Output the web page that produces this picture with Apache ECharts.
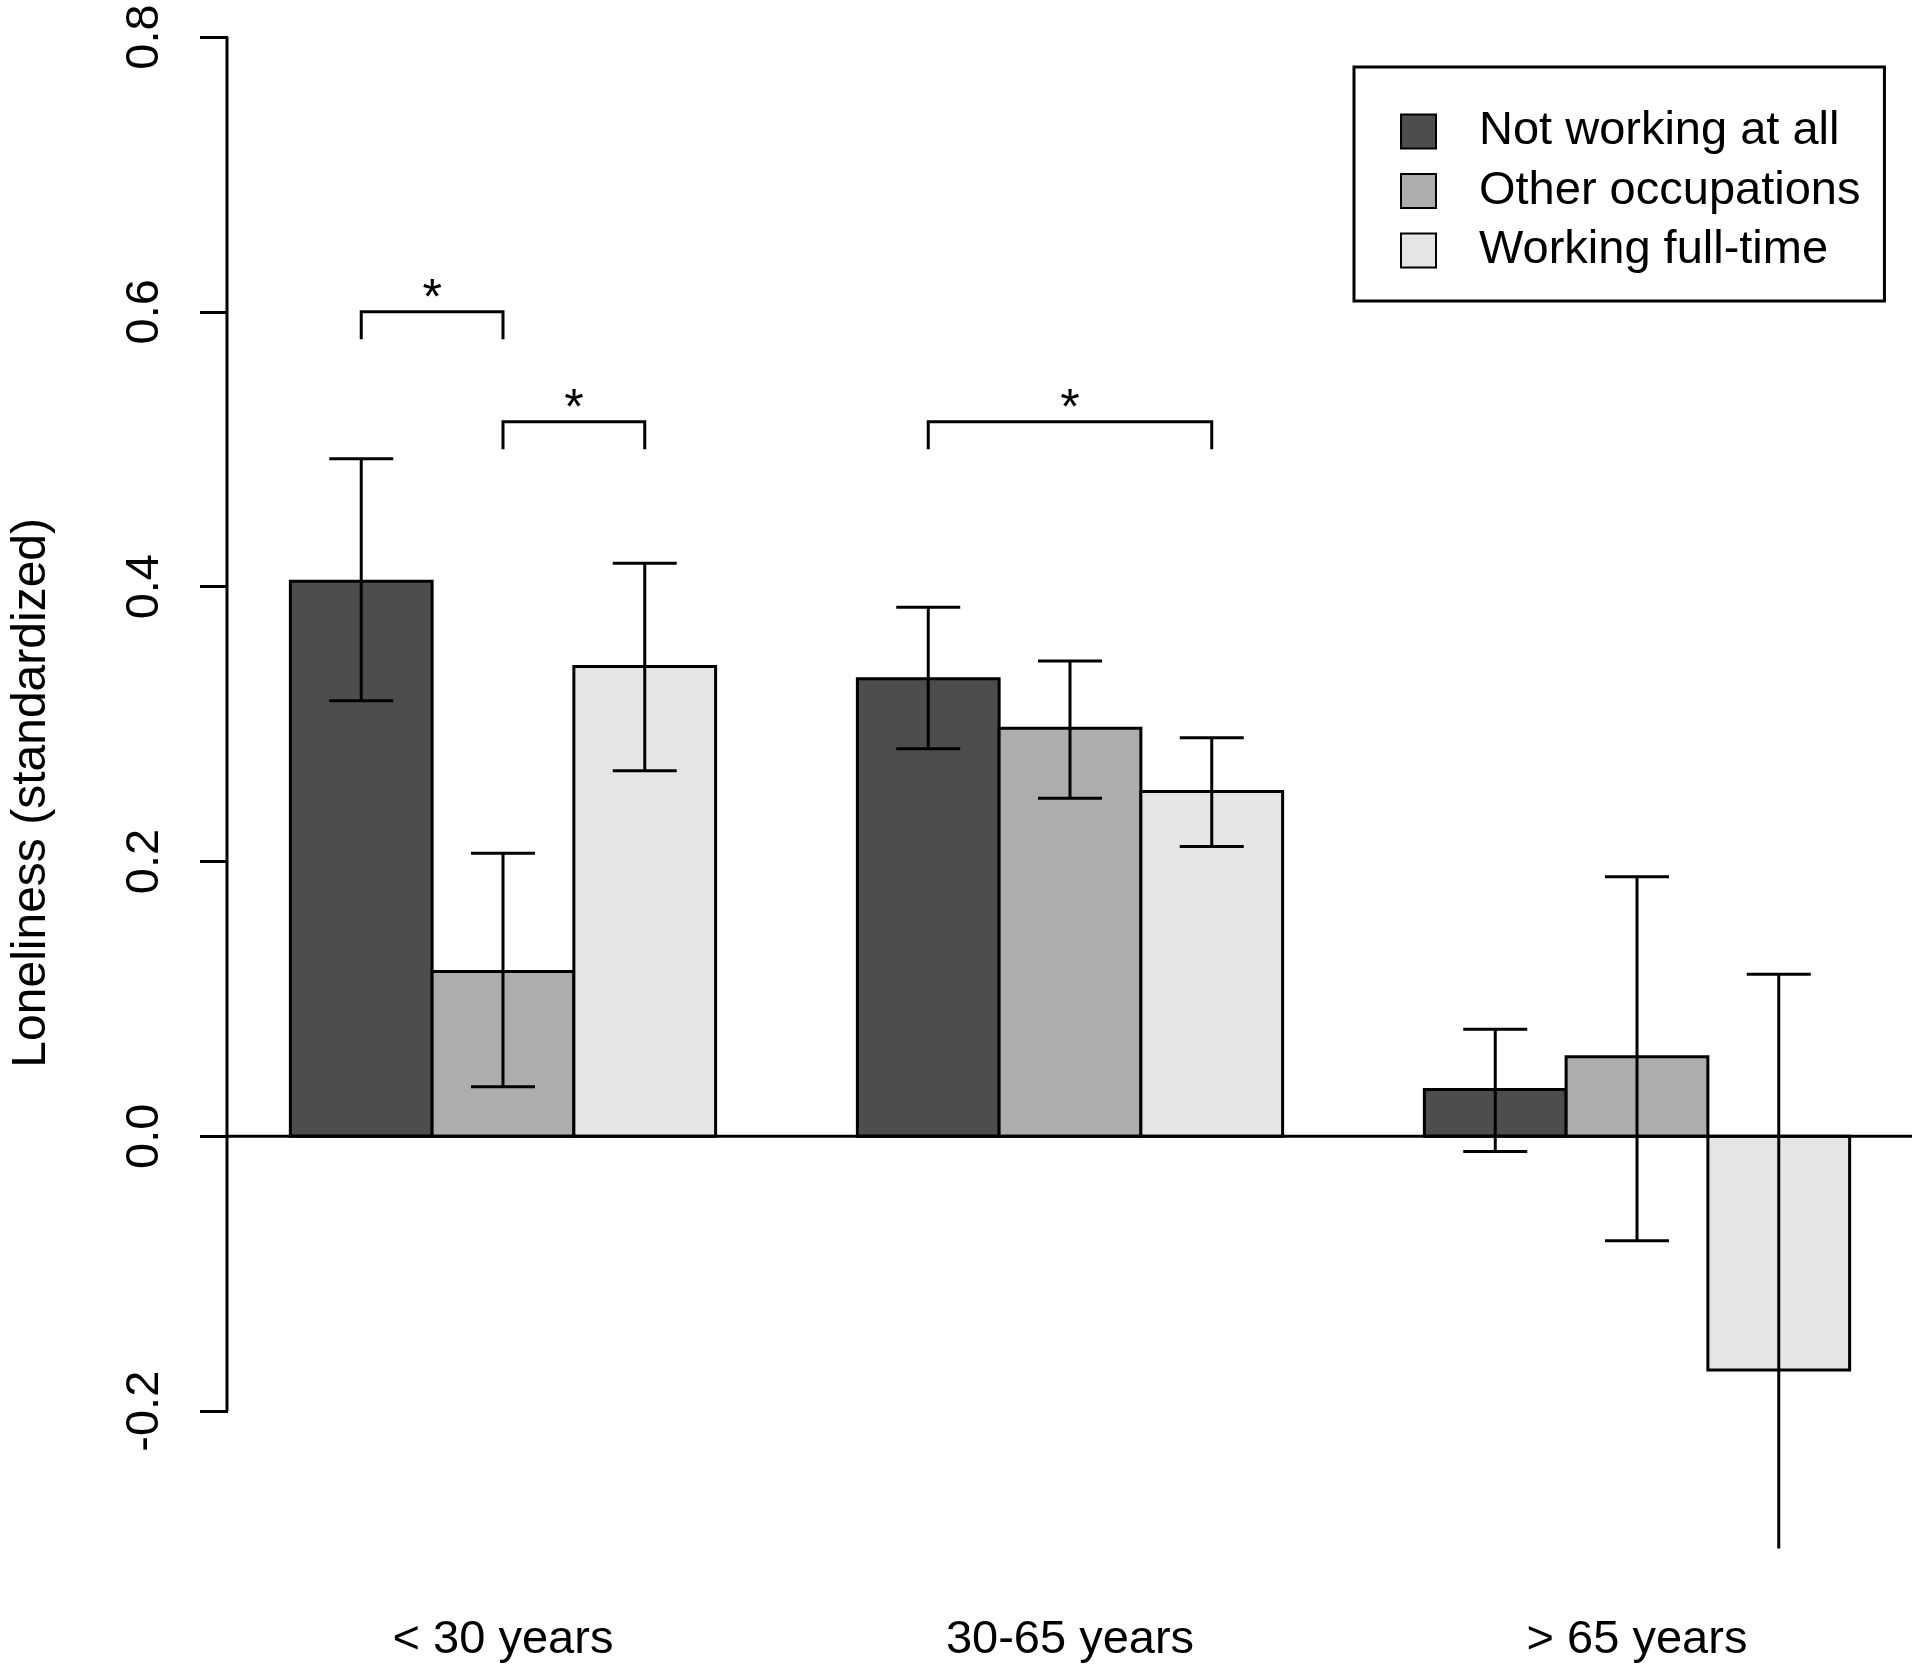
<!DOCTYPE html>
<html><head><meta charset="utf-8">
<script src="https://cdn.jsdelivr.net/npm/echarts@6/dist/echarts.min.js"></script>
<style>html,body{margin:0;padding:0;background:#fff}#c{width:1920px;height:1675px}</style>
</head><body><div id="c"></div>
<script>
// ---- data ----
const categories = ['< 30 years', '30-65 years', '> 65 years'];
const seriesNames = ['Not working at all', 'Other occupations', 'Working full-time'];
const notWorking     = [0.404, 0.333, 0.034];
const otherOcc       = [0.120, 0.297, 0.058];
const fullTime       = [0.342, 0.251, -0.170];
const notWorkingLow  = [0.317, 0.282, -0.011];
const notWorkingHigh = [0.493, 0.385, 0.078];
const otherOccLow    = [0.036, 0.246, -0.076];
const otherOccHigh   = [0.206, 0.346, 0.189];
const fullTimeLow    = [0.266, 0.211, -0.330];
const fullTimeHigh   = [0.417, 0.290, 0.118];
const yTicks = [-0.2, 0.0, 0.2, 0.4, 0.6, 0.8];
// significance brackets
const sigGroup  = [0, 0, 1];
const sigFrom   = [0, 1, 0];
const sigTo     = [1, 2, 2];
const sigLevel  = [0.60, 0.52, 0.52];
const sigLegEnd = [0.58, 0.50, 0.50];
const sigLabel  = ['*', '*', '*'];

// ---- styles / layout ----
const FONT = '"Liberation Sans", Arial, Helvetica, sans-serif';
const colors = ['#4D4D4D', '#ADADAD', '#E5E5E5'];
const values = [notWorking, otherOcc, fullTime];
const lows = [notWorkingLow, otherOccLow, fullTimeLow];
const highs = [notWorkingHigh, otherOccHigh, fullTimeHigh];
const nS = seriesNames.length, nG = categories.length;
const span = nG * (nS + 1);
const xMin = 1 - 0.04 * (span - 1), xMax = span + 0.04 * (span - 1);
const slotLeft = (g, s) => 1 + g * (nS + 1) + s;
const slotCenter = (g, s) => slotLeft(g, s) + 0.5;
const groupCenters = categories.map((c, g) => slotLeft(g, 0) + nS / 2);
const LW = 3;
const CAP = 64;

function barRender(sIdx) {
  return function (params, api) {
    const g = api.value(0), v = api.value(1);
    const left = slotLeft(g, sIdx);
    const p0 = api.coord([left, 0]);
    const p1 = api.coord([left + 1, v]);
    return {
      type: 'rect',
      shape: { x: p0[0], y: Math.min(p0[1], p1[1]), width: p1[0] - p0[0], height: Math.abs(p1[1] - p0[1]) },
      style: { fill: colors[sIdx], stroke: '#000', lineWidth: LW }
    };
  };
}

const series = seriesNames.map((name, s) => ({
  name: name,
  type: 'custom',
  renderItem: barRender(s),
  itemStyle: { color: colors[s], borderColor: '#000', borderWidth: 2 },
  data: categories.map((c, g) => [g, values[s][g]]),
  z: 2
}));

// axis line (from first to last tick) and zero reference line
series.push({
  type: 'custom', name: '_axes', z: 3, clip: false, silent: true,
  data: [[0]],
  renderItem: function (params, api) {
    const a = api.coord([xMin, yTicks[0]]);
    const b = api.coord([xMin, yTicks[yTicks.length - 1]]);
    const z0 = api.coord([xMin, 0]);
    const z1 = api.coord([xMax, 0]);
    return {
      type: 'group', children: [
        { type: 'line', shape: { x1: a[0] - 1, y1: a[1], x2: b[0] - 1, y2: b[1] }, style: { stroke: '#000', lineWidth: LW } },
        { type: 'line', shape: { x1: z0[0], y1: z0[1], x2: z1[0], y2: z1[1] }, style: { stroke: '#000', lineWidth: LW } }
      ]
    };
  }
});

// error bars
const errData = [];
for (let g = 0; g < nG; g++) for (let s = 0; s < nS; s++) errData.push([slotCenter(g, s), lows[s][g], highs[s][g]]);
series.push({
  type: 'custom', name: '_err', z: 4, clip: true, silent: true,
  data: errData,
  renderItem: function (params, api) {
    const x = api.value(0);
    const lo = api.coord([x, api.value(1)]);
    const hi = api.coord([x, api.value(2)]);
    return {
      type: 'group', children: [
        { type: 'line', shape: { x1: lo[0], y1: lo[1], x2: hi[0], y2: hi[1] }, style: { stroke: '#000', lineWidth: LW } },
        { type: 'line', shape: { x1: lo[0] - CAP / 2, y1: lo[1], x2: lo[0] + CAP / 2, y2: lo[1] }, style: { stroke: '#000', lineWidth: LW } },
        { type: 'line', shape: { x1: hi[0] - CAP / 2, y1: hi[1], x2: hi[0] + CAP / 2, y2: hi[1] }, style: { stroke: '#000', lineWidth: LW } }
      ]
    };
  }
});

// significance brackets
const sigData = sigGroup.map((g, i) => [slotCenter(g, sigFrom[i]), slotCenter(g, sigTo[i]), sigLevel[i], sigLegEnd[i], i]);
series.push({
  type: 'custom', name: '_sig', z: 5, clip: false, silent: true,
  data: sigData,
  renderItem: function (params, api) {
    const xa = api.value(0), xb = api.value(1), lv = api.value(2), le = api.value(3);
    const a0 = api.coord([xa, le]), a1 = api.coord([xa, lv]);
    const b1 = api.coord([xb, lv]), b0 = api.coord([xb, le]);
    return {
      type: 'group', children: [
        { type: 'polyline', shape: { points: [a0, a1, b1, b0] }, style: { stroke: '#000', lineWidth: LW, fill: null } },
        { type: 'text', style: { text: sigLabel[api.value(4)], x: (a1[0] + b1[0]) / 2, y: a1[1] - 12,
          align: 'center', verticalAlign: 'middle', fill: '#000', fontSize: 50, fontFamily: FONT } }
      ]
    };
  }
});

const option = {
  animation: false,
  backgroundColor: '#fff',
  grid: { left: 226, right: 8, top: 37, bottom: 126.4, containLabel: false },
  xAxis: {
    type: 'value', min: xMin, max: xMax,
    splitLine: { show: false }, axisLine: { show: false }, axisTick: { show: false },
    axisLabel: {
      customValues: groupCenters,
      formatter: v => { const i = groupCenters.findIndex(c => Math.abs(c - v) < 1e-6); return i >= 0 ? categories[i] : ''; },
      fontSize: 47, fontFamily: FONT, color: '#000', margin: 68
    }
  },
  yAxis: {
    type: 'value', min: -0.3, max: 0.8,
    name: 'Loneliness (standardized)', nameLocation: 'middle', nameGap: 172, nameRotate: 90,
    nameTextStyle: { fontSize: 48, fontFamily: FONT, color: '#000' },
    splitLine: { show: false }, axisLine: { show: false },
    axisTick: { show: true, customValues: yTicks, length: 28, lineStyle: { color: '#000', width: LW } },
    axisLabel: {
      customValues: yTicks, rotate: 90, formatter: v => v.toFixed(1),
      fontSize: 47, fontFamily: FONT, color: '#000', margin: 59
    }
  },
  legend: {
    orient: 'vertical', left: 1354, top: 67,
    padding: [41, 24, 27, 46],
    itemWidth: 35, itemHeight: 34, itemGap: 12.5,
    borderColor: '#000', borderWidth: LW, backgroundColor: '#fff',
    icon: 'rect', selectedMode: false,
    itemStyle: { borderColor: '#000', borderWidth: 2 },
    textStyle: { fontSize: 47, fontFamily: FONT, color: '#000', padding: [0, 0, 0, 38] },
    data: seriesNames
  },
  series: series
};
const chart = echarts.init(document.getElementById('c'), null, { renderer: 'canvas' });
chart.setOption(option);
</script>
</body></html>
